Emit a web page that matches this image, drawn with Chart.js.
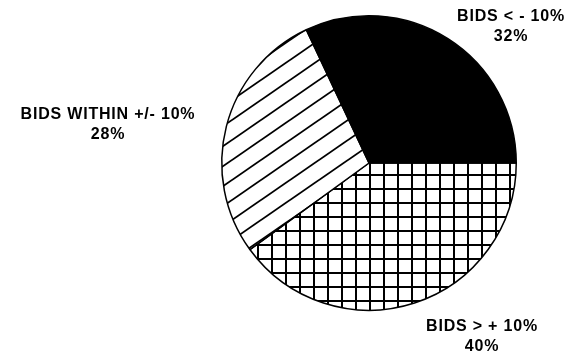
<!DOCTYPE html>
<html lang="en">

<head>
    <meta charset="UTF-8">
    <title>Bids pie</title>
    <style>
        body {
            margin: 0;
            background: #fff;
        }

        canvas {
            display: block;
        }
    </style>
</head>

<body>
    <canvas id="myChart" width="571" height="357"></canvas>

    <script src="https://cdn.jsdelivr.net/npm/chart.js"></script>
    <script>
        // data
        var categories = ['BIDS > + 10%', 'BIDS WITHIN +/- 10%', 'BIDS < - 10%'];
        var shares = [40, 28, 32];

        // grid fill
        function gridPattern(ctx) {
            var c = document.createElement('canvas');
            c.width = 14;
            c.height = 14;
            var g = c.getContext('2d');
            g.fillStyle = '#fff';
            g.fillRect(0, 0, 14, 14);
            g.fillStyle = '#000';
            g.fillRect(0, 0, 2, 14);
            g.fillRect(0, 0, 14, 2);
            var p = ctx.createPattern(c, 'repeat');
            p.setTransform(new DOMMatrix().translate(369 % 14, 160 % 14));
            return p;
        }

        // diagonal hatch fill
        function hatchPattern(ctx) {
            var w = 29, h = 20;
            var c = document.createElement('canvas');
            c.width = w;
            c.height = h;
            var g = c.getContext('2d');
            g.fillStyle = '#fff';
            g.fillRect(0, 0, w, h);
            g.strokeStyle = '#000';
            g.lineWidth = 1.8;
            for (var k = -1; k <= 1; k++) {
                g.beginPath();
                g.moveTo(-w, 2 * h + k * h);
                g.lineTo(2 * w, -h + k * h);
                g.stroke();
            }
            return ctx.createPattern(c, 'repeat');
        }

        var ctx = document.getElementById('myChart').getContext('2d');

        // text positions beside the pie
        var labelAnchors = [[482, 331], [108, 119], [511, 21]];

        var labelPlugin = {
            id: 'sliceLabels',
            afterDraw: function (chart) {
                var c = chart.ctx;
                c.save();
                c.fillStyle = '#000';
                c.font = 'bold 16px "Liberation Sans", Arial, sans-serif';
                c.letterSpacing = '0.8px';
                c.textAlign = 'center';
                c.textBaseline = 'alphabetic';
                categories.forEach(function (name, i) {
                    var a = labelAnchors[i];
                    c.fillText(name, a[0], a[1]);
                    c.fillText(shares[i] + '%', a[0], a[1] + 20);
                });
                c.restore();
            }
        };

        var myChart = new Chart(ctx, {
            type: 'pie',
            data: {
                labels: categories,
                datasets: [{
                    data: shares,
                    backgroundColor: [gridPattern(ctx), hatchPattern(ctx), '#000'],
                    borderColor: '#000',
                    borderWidth: 1.5
                }]
            },
            options: {
                responsive: false,
                animation: false,
                rotation: 90,
                layout: {
                    padding: { left: 221, right: 54, top: 15, bottom: 46 }
                },
                plugins: {
                    legend: { display: false },
                    tooltip: { enabled: false }
                }
            },
            plugins: [labelPlugin]
        });
    </script>
</body>

</html>
